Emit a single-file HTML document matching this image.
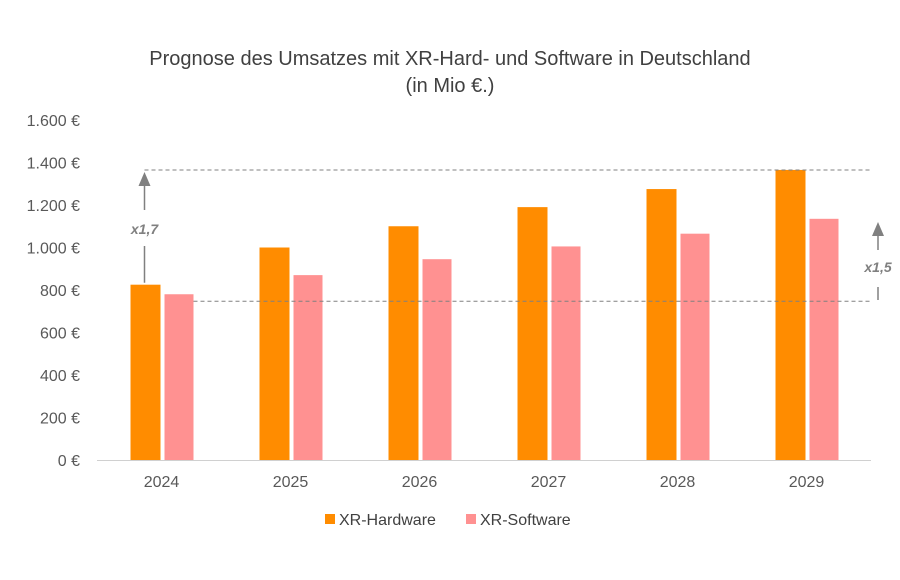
<!DOCTYPE html>
<html><head><meta charset="utf-8"><style>
html,body{margin:0;padding:0;background:#fff}
svg{display:block;font-family:"Liberation Sans",sans-serif}
</style></head><body>
<svg width="900" height="580" viewBox="0 0 900 580">
<g id="title" fill="#404040" font-size="20" text-anchor="middle">
<text x="450" y="65">Prognose des Umsatzes mit XR-Hard- und Software in Deutschland</text>
<text x="450" y="92">(in Mio €.)</text>
</g>
<g id="yaxis"></g>
<g id="bars"></g>
<g id="xaxis"></g>
<g id="annot"></g>
<g font-size="16" fill="#404040">
<rect x="325" y="514" width="10" height="10" fill="#FF8C00"/>
<text x="339" y="525">XR-Hardware</text>
<rect x="466" y="514" width="10" height="10" fill="#FF9191"/>
<text x="480" y="525">XR-Software</text>
</g>
</svg>
<script>
const categories=["2024","2025","2026","2027","2028","2029"];
const hardware=[825,1000,1100,1190,1275,1365];
const software=[780,870,945,1005,1065,1135];
const yTicks=[0,200,400,600,800,1000,1200,1400,1600];
const yTickLabels=["0 €","200 €","400 €","600 €","800 €","1.000 €","1.200 €","1.400 €","1.600 €"];
const NS="http://www.w3.org/2000/svg";
const x0=97,x1=871,y0=460,yTop=120,yMax=1600;
const band=(x1-x0)/categories.length;
const y=v=>y0-(v/yMax)*(y0-yTop);
const cx=i=>x0+band*(i+0.5);
function mk(tag,attrs,parent){const e=document.createElementNS(NS,tag);for(const k in attrs)e.setAttribute(k,attrs[k]);parent.appendChild(e);return e;}
const ya=document.getElementById('yaxis');
yTicks.forEach((t,i)=>{const e=mk('text',{x:80,y:y(t)+6,'text-anchor':'end','font-size':16,fill:'#595959'},ya);e.textContent=yTickLabels[i];

});
const bg=document.getElementById('bars');
categories.forEach((c,i)=>{
 const h=mk('rect',{x:cx(i)-31,y:y(hardware[i]),width:30,height:y0-y(hardware[i]),fill:'#FF8C00'},bg);
 
 
 const s=mk('rect',{x:cx(i)+3,y:y(software[i]),width:29,height:y0-y(software[i]),fill:'#FF9191'},bg);
 
 
});
const xa=document.getElementById('xaxis');
const bl=mk('line',{x1:x0,y1:y0+0.5,x2:x1,y2:y0+0.5,stroke:'#d0d0d0','stroke-width':1},xa);


categories.forEach((c,i)=>{const e=mk('text',{x:cx(i),y:487,'text-anchor':'middle','font-size':16,fill:'#595959'},xa);e.textContent=c;

});
const an=document.getElementById('annot');
const last=categories.length-1;
const yHi=y(hardware[last]),yLo=y(hardware[0])+17;
const ax=cx(0)-17;
const d1=mk('line',{x1:ax,y1:yHi,x2:x1,y2:yHi,stroke:'#808080','stroke-dasharray':'4,3'},an);


const d2=mk('line',{x1:cx(0)+32,y1:y(software[0])+7,x2:x1,y2:y(software[0])+7,stroke:'#808080','stroke-dasharray':'4,3'},an);


const a1=mk('path',{d:`M${ax} ${y(hardware[0])-2}V246M${ax} 210V185`,stroke:'#808080','stroke-width':1.5,fill:'none'},an);


const h1=mk('path',{d:`M${ax-6} 186L${ax} 172L${ax+6} 186Z`,fill:'#808080'},an);


const t1=mk('text',{x:ax,y:234,'text-anchor':'middle','font-size':14,'font-weight':'bold','font-style':'italic',fill:'#808080'},an);t1.textContent='x1,7';


const bx=878;
const a2=mk('path',{d:`M${bx} 300V287M${bx} 250V236`,stroke:'#808080','stroke-width':1.5,fill:'none'},an);


const h2=mk('path',{d:`M${bx-6} 236L${bx} 222L${bx+6} 236Z`,fill:'#808080'},an);


const t2=mk('text',{x:bx,y:272,'text-anchor':'middle','font-size':14,'font-weight':'bold','font-style':'italic',fill:'#808080'},an);t2.textContent='x1,5';


</script>
</body></html>
